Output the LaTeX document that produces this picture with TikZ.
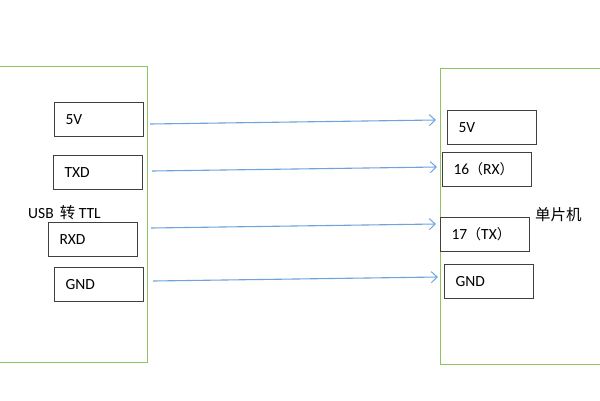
\documentclass[tikz,border=0pt]{standalone}
\usepackage{fontspec}
\setmainfont{Carlito}
\newfontfamily\cjk{Noto Sans CJK SC}
\usetikzlibrary{arrows.meta}
\definecolor{modgreen}{HTML}{8CC464}
\definecolor{boxgray}{HTML}{404040}
\definecolor{wireblue}{HTML}{6FA3DC}
\begin{document}
\begin{tikzpicture}[x=1pt,y=-1pt,
  font=\fontsize{15.5}{18}\selectfont,
  module/.style={draw=modgreen, line width=1pt},
  pinbox/.style={draw=boxgray, line width=1pt, minimum height=34pt, text width=67pt,
    inner xsep=11pt, inner ysep=0pt, anchor=north west, align=left},
  wire/.style={draw=wireblue, line width=1.1pt, -{Straight Barb[length=6pt,width=11pt,line width=1pt]}}]
\useasboundingbox (0,0) rectangle (600,400);
% modules
\draw[module] (-5,66) rectangle (147,362);
\draw[module] (440,68) rectangle (610,364);
% left pins
\node[pinbox] (l5v) at (54,102) {5V};
\node[pinbox] (ltxd) at (53,155) {TXD};
\node[pinbox] (lrxd) at (48,222) {RXD};
\node[pinbox] (lgnd) at (54,267) {GND};
% right pins
\node[pinbox] (r5v) at (447,110) {5V};
\node[pinbox] (rrx) at (442,152) {16{\cjk\fontsize{14}{17}\selectfont（}RX{\cjk\fontsize{14}{17}\selectfont）}};
\node[pinbox] (rtx) at (440,217) {17{\cjk\fontsize{14}{17}\selectfont（}TX{\cjk\fontsize{14}{17}\selectfont）}};
\node[pinbox] (rgnd) at (444,264) {GND};
% labels
\node[anchor=west, inner sep=0pt] (usb) at (28,213) {USB\, {\cjk\fontsize{15.5}{18}\selectfont 转} TTL};
\node[anchor=west, inner sep=0pt] (mcu) at (535,215) {\cjk\fontsize{15.5}{18}\selectfont 单片机};
% wire endpoints
\coordinate (a1s) at (150,124); \coordinate (a1e) at (436,120);
\coordinate (a2s) at (152,171); \coordinate (a2e) at (437,167);
\coordinate (a3s) at (151,228); \coordinate (a3e) at (436,224);
\coordinate (a4s) at (153,281); \coordinate (a4e) at (438,277);
\draw[wire] (a1s) -- (a1e);
\draw[wire] (a2s) -- (a2e);
\draw[wire] (a3s) -- (a3e);
\draw[wire] (a4s) -- (a4e);
\end{tikzpicture}
\end{document}
